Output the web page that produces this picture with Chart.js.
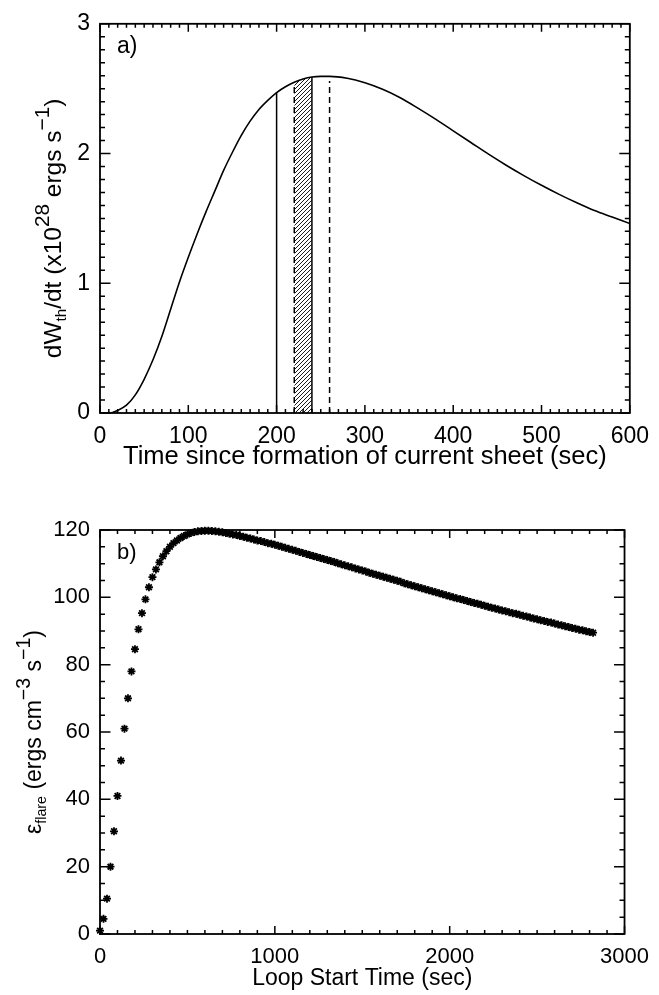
<!DOCTYPE html>
<html>
<head>
<meta charset="utf-8">
<script src="https://cdn.jsdelivr.net/npm/chart.js@4.4.1/dist/chart.umd.min.js"></script>
<style>
  body { margin: 0; background: #fff; }
  canvas { position: absolute; left: 0; }
  #c1 { top: 0; }
  #c2 { top: 497px; }
</style>
</head>
<body>
<canvas id="c1" width="659" height="497"></canvas>
<canvas id="c2" width="659" height="498"></canvas>
<script>
// Panel a) : dW_th/dt against time since formation of current sheet
const timeA = [0, 10, 20, 30, 40, 50, 60, 70, 80, 90, 100, 110, 120, 130, 140, 150, 160, 170, 180, 190,
  200, 210, 220, 230, 240, 250, 260, 280, 300, 320, 340, 360, 380, 400, 420, 440, 460, 480, 500,
  520, 540, 560, 580, 600];
const wthA = [0.00, 0.00, 0.02, 0.06, 0.14, 0.26, 0.41, 0.59, 0.80, 1.01, 1.20, 1.38, 1.55, 1.71, 1.87, 2.01, 2.14, 2.25, 2.34, 2.41,
  2.47, 2.515, 2.55, 2.575, 2.59, 2.595, 2.595, 2.58, 2.545, 2.495, 2.43, 2.35, 2.265, 2.175, 2.085, 1.995, 1.91, 1.83, 1.755,
  1.685, 1.62, 1.56, 1.51, 1.46];

// vertical markers: solid line, dashed line, hatched band
const solidT = 200, solidTop = 2.47;
const dashT = 260, dashTop = 2.56;
const hatchT = [220, 230, 240];
const hatchTop = [2.55, 2.575, 2.59];

// Panel b) : epsilon_flare against loop start time
const loopT = [0, 20, 40, 60, 80, 100, 120, 140, 160, 180, 200, 220, 240, 260, 280, 300, 320, 340, 360, 380,
  400, 420, 440, 460, 480, 500, 520, 540, 560, 580, 600, 620, 640, 660, 680, 700, 720, 740, 760, 780,
  800, 820, 840, 860, 880, 900, 920, 940, 960, 980, 1000, 1020, 1040, 1060, 1080, 1100, 1120, 1140, 1160, 1180,
  1200, 1220, 1240, 1260, 1280, 1300, 1320, 1340, 1360, 1380, 1400, 1420, 1440, 1460, 1480, 1500, 1520, 1540, 1560, 1580,
  1600, 1620, 1640, 1660, 1680, 1700, 1720, 1740, 1760, 1780, 1800, 1820, 1840, 1860, 1880, 1900, 1920, 1940, 1960, 1980,
  2000, 2020, 2040, 2060, 2080, 2100, 2120, 2140, 2160, 2180, 2200, 2220, 2240, 2260, 2280, 2300, 2320, 2340, 2360, 2380,
  2400, 2420, 2440, 2460, 2480, 2500, 2520, 2540, 2560, 2580, 2600, 2620, 2640, 2660, 2680, 2700, 2720, 2740, 2760, 2780,
  2800, 2820];
const epsF = [1.0, 4.5, 10.5, 20.0, 30.5, 41.0, 51.5, 61.0, 70.0, 78.0, 84.6, 90.5, 95.3, 99.4, 103.0, 106.0, 108.3, 110.4, 112.2, 113.7,
  115.0, 116.1, 116.9, 117.6, 118.2, 118.7, 119.1, 119.4, 119.6, 119.7, 119.8, 119.8, 119.7, 119.6, 119.5, 119.3, 119.1, 118.9, 118.7, 118.5,
  118.2, 118.0, 117.7, 117.5, 117.2, 116.9, 116.7, 116.4, 116.1, 115.9, 115.6, 115.3, 115.0, 114.7, 114.4, 114.1, 113.8, 113.5, 113.2, 112.9,
  112.6, 112.3, 112.0, 111.7, 111.4, 111.1, 110.8, 110.5, 110.1, 109.8, 109.5, 109.2, 108.9, 108.6, 108.3, 108.0, 107.7, 107.3, 107.0, 106.7,
  106.4, 106.1, 105.8, 105.5, 105.2, 104.9, 104.6, 104.2, 103.9, 103.6, 103.3, 103.0, 102.7, 102.4, 102.1, 101.8, 101.5, 101.2, 100.9, 100.6,
  100.3, 100.0, 99.7, 99.5, 99.2, 98.9, 98.6, 98.3, 98.1, 97.8, 97.5, 97.2, 96.9, 96.7, 96.4, 96.1, 95.9, 95.6, 95.3, 95.1,
  94.8, 94.5, 94.3, 94.0, 93.7, 93.5, 93.2, 93.0, 92.7, 92.5, 92.2, 91.9, 91.7, 91.4, 91.2, 90.9, 90.7, 90.4, 90.2, 89.9,
  89.7, 89.5];

const FONT = '"Liberation Sans", Arial, Helvetica, sans-serif';

// texte avec indices / exposants
function richText(ctx, parts, x, y, fs) {
  ctx.save();
  ctx.translate(x, y);
  ctx.rotate(-Math.PI / 2);
  let total = 0;
  const items = parts.map(p => {
    const scale = p[1] === 0 ? 1 : (p[1] < 0 ? 0.62 : 0.85);
    const size = fs * scale;
    ctx.font = size + 'px ' + FONT;
    const w = ctx.measureText(p[0]).width;
    total += w;
    return { text: p[0], size, w, dy: p[1] < 0 ? fs * 0.22 : (p[1] > 0 ? -fs * 0.5 : 0) };
  });
  let cx = -total / 2;
  ctx.fillStyle = '#000';
  ctx.textBaseline = 'alphabetic';
  items.forEach(it => {
    ctx.font = it.size + 'px ' + FONT;
    ctx.fillText(it.text, cx, it.dy);
    cx += it.w;
  });
  ctx.restore();
}

// cadre IDL : boite + graduations vers l'interieur sur les 4 cotes
const frame = {
  id: 'frame',
  afterDraw(chart, args, o) {
    const { ctx, chartArea: a, scales: { x, y } } = chart;
    ctx.save();
    ctx.strokeStyle = '#000';
    ctx.lineWidth = 1.5;
    ctx.beginPath();
    const nx = Math.round((x.max - x.min) / o.xMinor);
    for (let i = 0; i <= nx; i++) {
      const px = x.getPixelForValue(x.min + i * o.xMinor);
      const len = i % o.xPer === 0 ? 8 : 4;
      ctx.moveTo(px, a.bottom); ctx.lineTo(px, a.bottom - len);
      ctx.moveTo(px, a.top); ctx.lineTo(px, a.top + len);
    }
    const ny = Math.round((y.max - y.min) / o.yMinor);
    for (let i = 0; i <= ny; i++) {
      const py = y.getPixelForValue(y.min + i * o.yMinor);
      const len = i % o.yPer === 0 ? 10.5 : 5;
      ctx.moveTo(a.left, py); ctx.lineTo(a.left + len, py);
      ctx.moveTo(a.right, py); ctx.lineTo(a.right - len, py);
    }
    ctx.stroke();
    ctx.lineWidth = 1.8;
    ctx.strokeRect(a.left, a.top, a.right - a.left, a.bottom - a.top);

    ctx.fillStyle = '#000';
    ctx.font = o.labelSize + 'px ' + FONT;
    ctx.textBaseline = 'middle';
    ctx.textAlign = 'left';
    ctx.fillText(o.panel, a.left + 17, a.top + 23);
    ctx.font = o.xTitleSize + 'px ' + FONT;
    ctx.textAlign = 'center';
    ctx.fillText(o.xTitle, (a.left + a.right) / 2, a.bottom + o.xTitleDy);
    ctx.restore();
    richText(ctx, o.yTitle, o.yTitleX, (a.top + a.bottom) / 2 + o.yTitleDy, o.yTitleSize);
  }
};

function hatchPattern() {
  const c = document.createElement('canvas');
  c.width = 4; c.height = 4;
  const g = c.getContext('2d');
  g.strokeStyle = '#000';
  g.lineWidth = 0.9;
  g.beginPath();
  g.moveTo(0, 4); g.lineTo(4, 0);
  g.moveTo(-1, 1); g.lineTo(1, -1);
  g.moveTo(3, 5); g.lineTo(5, 3);
  g.stroke();
  return g.createPattern(c, 'repeat');
}

function axisX(min, max, step, h, fs) {
  return {
    type: 'linear', min, max,
    afterFit: s => { s.height = h; },
    grid: { display: false, drawTicks: false },
    border: { display: false },
    ticks: { stepSize: step, padding: 10, color: '#000', font: { family: FONT, size: fs },
      maxRotation: 0, autoSkip: false, callback: v => String(v) }
  };
}
function axisY(min, max, step, fs) {
  return {
    type: 'linear', min, max,
    afterFit: s => { s.width = 100; },
    grid: { display: false, drawTicks: false },
    border: { display: false },
    ticks: { stepSize: step, padding: 10, color: '#000', font: { family: FONT, size: fs },
      autoSkip: false, callback: v => String(v) }
  };
}

const vline = (t, top, dash) => ({
  data: [{ x: t, y: 0 }, { x: t, y: top }],
  borderColor: '#000', borderWidth: 1.5, borderDash: dash, pointRadius: 0, fill: false
});

// Panel a)
new Chart(document.getElementById('c1').getContext('2d'), {
  type: 'line',
  data: {
    datasets: [
      {
        data: hatchT.map((t, i) => ({ x: t, y: hatchTop[i] })),
        borderWidth: 0, pointRadius: 0, fill: 'origin',
        backgroundColor: hatchPattern(), tension: 0
      },
      vline(hatchT[0], hatchTop[0], [6, 4]),
      vline(hatchT[hatchT.length - 1], hatchTop[hatchTop.length - 1], []),
      vline(solidT, solidTop, []),
      vline(dashT, dashTop, [6, 4]),
      {
        data: timeA.map((t, i) => ({ x: t, y: wthA[i] })),
        borderColor: '#000', borderWidth: 1.6, pointRadius: 0,
        cubicInterpolationMode: 'monotone', fill: false
      }
    ]
  },
  options: {
    responsive: false, animation: false, devicePixelRatio: 1,
    layout: { padding: { top: 10, right: 26, left: 0, bottom: 0 } },
    scales: { x: axisX(0, 600, 100, 84, 23), y: axisY(0, 3, 1, 23) },
    plugins: {
      legend: { display: false }, tooltip: { enabled: false },
      frame: {
        xMinor: 10, xPer: 10, yMinor: 0.1, yPer: 10, panel: 'a)', labelSize: 23,
        xTitle: 'Time since formation of current sheet (sec)', xTitleSize: 25.5, xTitleDy: 44,
        yTitle: [['dW', 0], ['th', -1], ['/dt (x10', 0], ['28', 1], [' ergs s', 0], ['\u22121', 1], [')', 0]],
        yTitleX: 61, yTitleDy: 10, yTitleSize: 24.5
      }
    }
  },
  plugins: [frame]
});

// Panel b)
new Chart(document.getElementById('c2').getContext('2d'), {
  type: 'scatter',
  data: {
    datasets: [{
      data: loopT.map((t, i) => ({ x: t, y: epsF[i] })),
      pointStyle: 'star', pointRadius: 4, borderWidth: 1.8,
      borderColor: '#000', backgroundColor: '#000', clip: false
    }]
  },
  options: {
    responsive: false, animation: false, devicePixelRatio: 1,
    layout: { padding: { top: 33, right: 26, left: 0, bottom: 0 } },
    scales: { x: axisX(0, 3000, 1000, 61, 22), y: axisY(0, 120, 20, 22) },
    plugins: {
      legend: { display: false }, tooltip: { enabled: false },
      frame: {
        xMinor: 100, xPer: 10, yMinor: 5, yPer: 4, panel: 'b)', labelSize: 22,
        xTitle: 'Loop Start Time (sec)', xTitleSize: 23, xTitleDy: 45,
        yTitle: [['\u03b5', 0], ['flare', -1], [' (ergs cm', 0], ['\u22123', 1], [' s', 0], ['\u22121', 1], [')', 0]],
        yTitleX: 41, yTitleDy: 0, yTitleSize: 23
      }
    }
  },
  plugins: [frame]
});
</script>
</body>
</html>
